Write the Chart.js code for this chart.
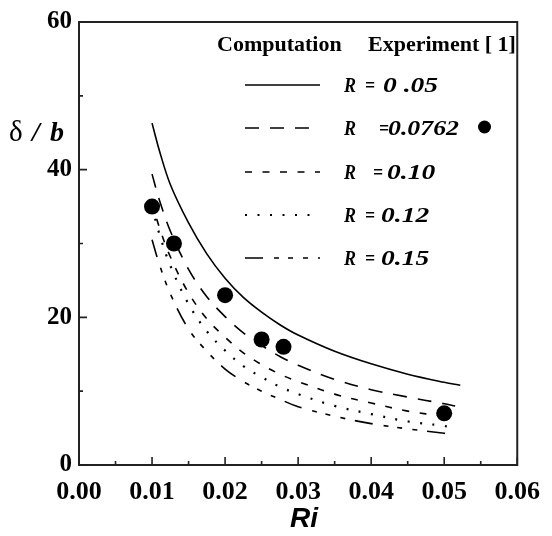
<!DOCTYPE html>
<html>
<head>
<meta charset="utf-8">
<script src="https://cdn.jsdelivr.net/npm/chart.js@4.4.0/dist/chart.umd.min.js"></script>
<style>
  html, body { margin: 0; padding: 0; background: #fff; }
  #wrap { width: 552px; height: 536px; }
</style>
</head>
<body>
<div id="wrap"><canvas id="chart" width="552" height="536"></canvas></div>
<script>
// Ri grid shared by the computed curves, last point differs per curve
const riGrid = [0.010, 0.011, 0.0125, 0.015, 0.0175, 0.020, 0.0225, 0.025, 0.0275, 0.030, 0.035, 0.040, 0.045, 0.050];
const riLast = [0.0522, 0.0515, 0.0513, 0.0505, 0.0505];

// delta/b
const deltaR005  = [46.3, 42.6, 38.0, 32.8, 28.6, 25.3, 22.7, 20.7, 19.0, 17.6, 15.4, 13.7, 12.3, 11.2, 10.8];
const deltaR0762 = [39.4, 35.9, 31.7, 26.5, 22.8, 20.1, 17.9, 16.2, 14.7, 13.5, 11.6, 10.2, 9.2, 8.3, 8.0];
const deltaR010  = [35.6, 32.2, 28.2, 23.3, 19.8, 17.3, 15.2, 13.6, 12.3, 11.3, 9.6, 8.4, 7.3, 6.6, 6.4];
const deltaR012  = [35.0, 31.3, 27.0, 21.8, 18.1, 15.5, 13.4, 11.9, 10.6, 9.6, 8.0, 6.9, 5.9, 5.3, 5.2];
const deltaR015  = [30.5, 27.2, 23.2, 18.4, 15.4, 13.0, 11.3, 10.0, 8.9, 7.9, 6.6, 5.6, 4.9, 4.3, 4.2];

// Experiment [1], R = 0.0762
const expRi    = [0.010, 0.013, 0.020, 0.025, 0.028, 0.050];
const expDelta = [35, 30, 23, 17, 16, 7];

const curveLabels = ["0 .05", "0.0762", "0.10", "0.12", "0.15"];
const xTicks = [0, 0.01, 0.02, 0.03, 0.04, 0.05, 0.06];
const xMinor = [0.005, 0.015, 0.025, 0.035, 0.045, 0.055];
const yTicks = [0, 20, 40, 60];
const yMinor = [10, 30, 50];

// line styles, one per curve
const dashes = [[], [14, 11], [7, 10.5], [2, 10.5], [18, 11, 5, 9, 5, 10, 5, 10]];
const widths = [1.6, 1.6, 1.6, 2.2, 1.6];

const SERIF = '"Liberation Serif", "Times New Roman", serif';

function points(vals, last) {
  return vals.map((v, i) => ({ x: i < riGrid.length ? riGrid[i] : last, y: v }));
}

const curveSets = [deltaR005, deltaR0762, deltaR010, deltaR012, deltaR015].map((vals, i) => ({
  label: "R = " + curveLabels[i],
  data: points(vals, riLast[i]),
  showLine: true,
  borderColor: "#000",
  borderWidth: widths[i],
  borderDash: dashes[i],
  borderCapStyle: "butt",
  pointRadius: 0,
  tension: 0.35,
  fill: false
}));

// frame + inward tick marks
const framePlugin = {
  id: "frame",
  beforeDatasetsDraw(chart) {
    const { ctx, chartArea: a, scales } = chart;
    ctx.save();
    ctx.strokeStyle = "#222";
    ctx.lineWidth = 2;
    ctx.strokeRect(a.left, a.top, a.right - a.left, a.bottom - a.top);
    ctx.lineWidth = 1.6;
    ctx.beginPath();
    xTicks.forEach(v => { const p = scales.x.getPixelForValue(v); ctx.moveTo(p, a.bottom); ctx.lineTo(p, a.bottom - 8); });
    xMinor.forEach(v => { const p = scales.x.getPixelForValue(v); ctx.moveTo(p, a.bottom); ctx.lineTo(p, a.bottom - 4); });
    yTicks.forEach(v => { const p = scales.y.getPixelForValue(v); ctx.moveTo(a.left, p); ctx.lineTo(a.left + 8, p); });
    yMinor.forEach(v => { const p = scales.y.getPixelForValue(v); ctx.moveTo(a.left, p); ctx.lineTo(a.left + 4, p); });
    ctx.stroke();
    ctx.restore();
  }
};

// draw text stretched toward a given width, within limits
function fitText(ctx, txt, x, y, w, maxScale) {
  const sx = Math.min(w / ctx.measureText(txt).width, maxScale);
  ctx.save();
  ctx.translate(x, y);
  ctx.scale(sx, 1);
  ctx.fillText(txt, 0, 0);
  ctx.restore();
}

// legend block and axis titles
const legendPlugin = {
  id: "legendBlock",
  afterDraw(chart) {
    const ctx = chart.ctx;
    ctx.save();
    ctx.fillStyle = "#000";
    ctx.textBaseline = "alphabetic";
    ctx.textAlign = "left";

    ctx.font = "bold 22px " + SERIF;
    ctx.fillText("Computation", 217, 51);
    ctx.fillText("Experiment [ 1]", 368, 51);

    const rowY = [85, 128, 172, 215, 258];
    const eqX = [365, 379, 373, 365, 365];
    const numX = [[383, 441], [388, 459], [387, 441], [381, 437], [381, 440]];
    rowY.forEach((y, i) => {
      ctx.save();
      ctx.strokeStyle = "#000";
      ctx.lineWidth = widths[i];
      ctx.setLineDash(dashes[i]);
      ctx.beginPath();
      ctx.moveTo(245, y);
      ctx.lineTo(320, y);
      ctx.stroke();
      ctx.restore();

      ctx.font = "italic bold 22px " + SERIF;
      fitText(ctx, "R", 344, y + 7, 12, 1);
      fitText(ctx, "=", eqX[i], y + 7, 10, 1);
      fitText(ctx, curveLabels[i], numX[i][0], y + 7, numX[i][1] - numX[i][0], 1.25);
    });

    // experiment marker
    ctx.beginPath();
    ctx.arc(484.5, 127, 6.5, 0, Math.PI * 2);
    ctx.fill();

    // y title
    ctx.font = "29px " + SERIF;
    ctx.fillText("\u03b4", 9, 141);
    ctx.font = "italic bold 28px " + SERIF;
    ctx.fillText("/", 32, 141);
    ctx.fillText("b", 50, 141);

    // x title
    ctx.font = 'italic bold 28px "Liberation Sans", Arial, sans-serif';
    ctx.textAlign = "center";
    ctx.fillText("Ri", 304, 527);
    ctx.restore();
  }
};

new Chart(document.getElementById("chart"), {
  type: "scatter",
  data: {
    datasets: [{
      label: "Experiment [ 1]",
      data: expRi.map((x, i) => ({ x: x, y: expDelta[i] })),
      showLine: false,
      pointRadius: 8,
      pointBackgroundColor: "#000",
      pointBorderWidth: 0
    }].concat(curveSets)
  },
  options: {
    responsive: false,
    animation: false,
    layout: { padding: { left: 0, top: 18, right: 26, bottom: 0 } },
    plugins: { legend: { display: false }, tooltip: { enabled: false } },
    scales: {
      x: {
        type: "linear",
        min: 0,
        max: 0.06,
        grid: { display: false, drawTicks: false },
        border: { display: false },
        afterBuildTicks: s => { s.ticks = xTicks.map(v => ({ value: v })); },
        afterFit: s => { s.height = 71; },
        ticks: {
          autoSkip: false,
          maxRotation: 0,
          padding: 12,
          color: "#000",
          font: { family: SERIF, size: 26, weight: "bold" },
          callback: v => Number(v).toFixed(2)
        }
      },
      y: {
        type: "linear",
        min: 0,
        max: 60,
        grid: { display: false, drawTicks: false },
        border: { display: false },
        afterBuildTicks: s => { s.ticks = yTicks.map(v => ({ value: v })); },
        afterFit: s => { s.width = 79; },
        ticks: {
          autoSkip: false,
          padding: 7,
          color: "#000",
          font: { family: SERIF, size: 25, weight: "bold" },
          callback: v => String(v)
        }
      }
    }
  },
  plugins: [framePlugin, legendPlugin]
});
</script>
</body>
</html>
